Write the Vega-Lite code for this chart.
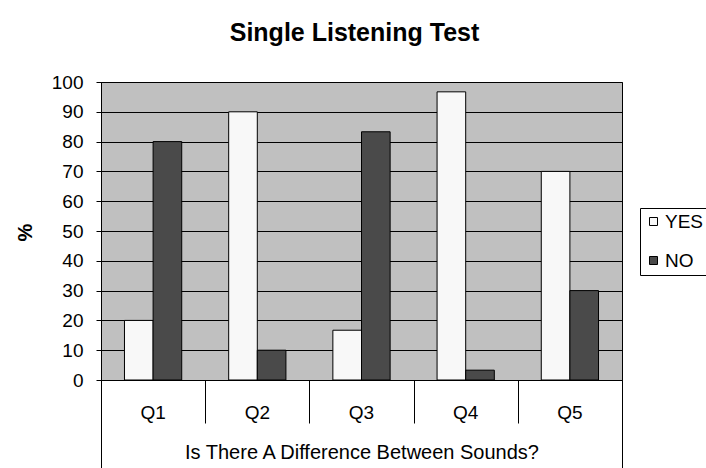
{
  "$schema": "https://vega.github.io/schema/vega-lite/v6.json",
  "width": 521,
  "height": 298,
  "autosize": {"type": "none"},
  "padding": {"left": 101, "top": 82, "right": 84, "bottom": 88},
  "background": "white",
  "title": {
    "text": "Single Listening Test",
    "font": "Liberation Sans",
    "fontSize": 25,
    "fontWeight": "bold",
    "color": "black",
    "anchor": "middle",
    "frame": "group",
    "baseline": "alphabetic",
    "dx": -7,
    "offset": 7
  },
  "config": {
    "view": {"fill": "#c0c0c0", "stroke": "black", "strokeWidth": 1},
    "font": "Liberation Sans"
  },
  "data": {
    "values": [
      {"q": "Q1", "answer": "YES", "pct": 20},
      {"q": "Q1", "answer": "NO", "pct": 80},
      {"q": "Q2", "answer": "YES", "pct": 90},
      {"q": "Q2", "answer": "NO", "pct": 10},
      {"q": "Q3", "answer": "YES", "pct": 16.7},
      {"q": "Q3", "answer": "NO", "pct": 83.3},
      {"q": "Q4", "answer": "YES", "pct": 96.7},
      {"q": "Q4", "answer": "NO", "pct": 3.3},
      {"q": "Q5", "answer": "YES", "pct": 70},
      {"q": "Q5", "answer": "NO", "pct": 30}
    ]
  },
  "layer": [
    {
      "mark": {"type": "bar", "stroke": "black", "strokeWidth": 1},
      "encoding": {
        "x": {
          "field": "q",
          "type": "nominal",
          "scale": {"paddingInner": 0, "paddingOuter": 0},
          "axis": {
            "orient": "bottom",
            "ticks": false,
            "domain": false,
            "grid": false,
            "labelAngle": 0,
            "labelFontSize": 19,
            "labelColor": "black",
            "labelPadding": 32,
            "labelBaseline": "middle",
            "title": "Is There A Difference Between Sounds?",
            "titleFontSize": 20,
            "titleFontWeight": "normal",
            "titleColor": "black",
            "titlePadding": 20
          }
        },
        "xOffset": {
          "field": "answer",
          "type": "nominal",
          "sort": ["YES", "NO"],
          "scale": {"paddingInner": 0, "paddingOuter": 0.82}
        },
        "y": {
          "field": "pct",
          "type": "quantitative",
          "scale": {"domain": [0, 100], "nice": false},
          "axis": {
            "values": [0, 10, 20, 30, 40, 50, 60, 70, 80, 90, 100],
            "tickSize": 5,
            "tickColor": "black",
            "domainColor": "black",
            "labelFontSize": 19,
            "labelColor": "black",
            "labelPadding": 13,
            "grid": true,
            "gridColor": "black",
            "gridOpacity": 1,
            "title": "%",
            "titleFontSize": 20,
            "titleFontWeight": "bold",
            "titleColor": "black",
            "titleX": -76,
            "titleY": 150,
            "titleAngle": 270,
            "titleBaseline": "middle",
            "titleAlign": "center"
          }
        },
        "fill": {
          "field": "answer",
          "type": "nominal",
          "sort": ["YES", "NO"],
          "scale": {"domain": ["YES", "NO"], "range": ["#f8f8f8", "#4a4a4a"]},
          "legend": {
            "orient": "none",
            "legendX": 539,
            "legendY": 126,
            "title": null,
            "strokeColor": "black",
            "fillColor": "white",
            "padding": 4,
            "labelFontSize": 19,
            "labelColor": "black",
            "labelOffset": 2,
            "rowPadding": 19,
            "symbolOffset": 0,
            "symbolType": "square",
            "symbolSize": 64,
            "symbolStrokeColor": "black",
            "symbolStrokeWidth": 1
          }
        }
      }
    },
    {
      "mark": {"type": "bar", "opacity": 0},
      "encoding": {
        "x": {
          "field": "q",
          "type": "nominal",
          "axis": {
            "orient": "bottom",
            "tickBand": "extent",
            "tickSize": 43,
            "tickColor": "black",
            "labels": false,
            "domain": false,
            "grid": false,
            "title": null
          }
        }
      }
    },
    {
      "mark": {"type": "bar", "opacity": 0},
      "encoding": {
        "x": {
          "field": "q",
          "type": "nominal",
          "axis": {
            "orient": "bottom",
            "values": ["Q1"],
            "bandPosition": 0,
            "tickSize": 88,
            "tickColor": "black",
            "labels": false,
            "domain": false,
            "grid": false,
            "title": null
          }
        }
      }
    },
    {
      "mark": {"type": "bar", "opacity": 0},
      "encoding": {
        "x": {
          "field": "q",
          "type": "nominal",
          "axis": {
            "orient": "bottom",
            "values": ["Q5"],
            "bandPosition": 1,
            "tickSize": 88,
            "tickColor": "black",
            "labels": false,
            "domain": false,
            "grid": false,
            "title": null
          }
        }
      }
    }
  ],
  "resolve": {"axis": {"x": "independent"}}
}
